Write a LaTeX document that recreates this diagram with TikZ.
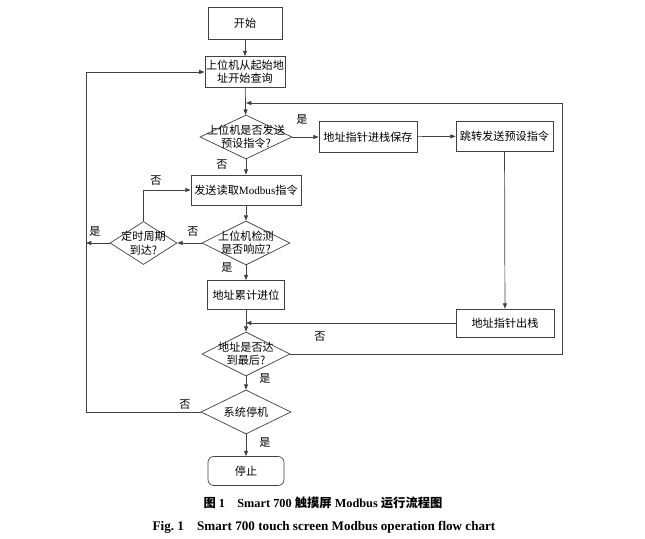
\documentclass[tikz,border=0pt]{standalone}
\usepackage{fontspec}
\setmainfont{Liberation Serif}
\newfontfamily\cjk{Noto Sans CJK SC}
\usetikzlibrary{arrows.meta, shapes.geometric}

\begin{document}
\begin{tikzpicture}[
    x=0.03cm, y=-0.03cm,
    box/.style={draw=black!75, line width=0.6pt, minimum width=2.4cm, minimum height=0.93cm,
                text centered, align=center, inner sep=1pt, font=\cjk\fontsize{9.5}{11.5}\selectfont},
    dec/.style={draw=black!75, line width=0.6pt, diamond, inner sep=0pt,
                minimum width=2.64cm, minimum height=1.32cm},
    dectext/.style={align=center, inner sep=0pt, font=\cjk\fontsize{9.5}{11.5}\selectfont},
    lbl/.style={inner sep=0pt, font=\cjk\fontsize{9.5}{11}\selectfont},
    arr/.style={-{Triangle[length=1.6mm, width=1.2mm]}, draw=black!75, line width=0.6pt},
    line/.style={draw=black!75, line width=0.6pt}
]
\useasboundingbox (0,0) rectangle (645,539);

% main column
\node[box, minimum width=2.22cm, minimum height=0.96cm] (start) at (245,23) {开始};
\node[box] (query) at (245,72) {上位机从起始地\\址开始查询};
\node[dec, minimum width=2.76cm] (q1) at (246,137) {};
\node[dectext] at (q1) {上位机是否发送\\预设指令?};
\node[box, minimum width=3.3cm, minimum height=0.9cm] (send) at (246,190) {发送读取{\rmfamily Modbus}指令};
\node[dec] (q2) at (246,243) {};
\node[dectext] at (q2) {上位机检测\\是否响应?};
\node[dec, minimum width=2.01cm, minimum height=1.29cm] (timer) at (143.5,243) {};
\node[dectext] at (timer) {定时周期\\到达?};
\node[box, minimum width=2.31cm, minimum height=0.87cm] (accum) at (246,295) {地址累计进位};
\node[dec] (q3) at (246,354) {};
\node[dectext] at (q3) {地址是否达\\到最后?};
\node[dec, minimum width=2.7cm] (halt) at (246,412) {};
\node[dectext] at (halt) {系统停机};
\node[box, rounded corners=5pt, minimum width=2.28cm, minimum height=0.87cm] (stop) at (246,471) {停止};

% right column
\node[box, minimum width=2.94cm] (push) at (368,137) {地址指针进栈保存};
\node[box, minimum width=2.91cm, minimum height=0.9cm] (jump) at (504.5,136) {跳转发送预设指令};
\node[box, minimum width=2.94cm, minimum height=0.84cm] (pop) at (505,323) {地址指针出栈};

\coordinate (lx) at (86,412);
\coordinate (rx) at (562,103);

\draw[arr] (start) -- (query);
\draw[arr] (query) -- (q1);
\draw[arr] (q1) -- (push);
\draw[arr] (push) -- (jump);
\draw[arr] (jump) -- (pop);
\draw[arr] (q1) -- (send);
\draw[arr] (send) -- (q2);
\draw[arr] (q2) -- (timer);
\draw[arr] (timer.north) |- (send.west);
\draw[arr] (timer.west) -- (timer.west -| lx);
\draw[arr] (q2) -- (accum);
\draw[arr] (accum) -- (q3);
\draw[arr] (pop.west) -- (pop.west -| q3.north);
\draw[arr] (q3.east) -| (rx) -- (rx -| q1.north);
\draw[arr] (q3) -- (halt);
\draw[arr] (halt.west) -- (lx) |- (query.west);
\draw[arr] (halt) -- (stop);

% branch labels
\node[lbl] (y1) at (302,120) {是};
\node[lbl] (n1) at (222,165) {否};
\node[lbl] (n2) at (156,181) {否};
\node[lbl] (n3) at (193,232) {否};
\node[lbl] (y2) at (95,232) {是};
\node[lbl] (y3) at (227,268) {是};
\node[lbl] (n4) at (320,337) {否};
\node[lbl] (y4) at (265,379) {是};
\node[lbl] (n5) at (185,405) {否};
\node[lbl] (y5) at (265,443) {是};

% caption
\node[font=\fontsize{10.5}{12}\selectfont\bfseries] (cap1) at (323,503)
  {{\cjk 图}~1\quad Smart~700~{\cjk 触摸屏}~Modbus~{\cjk 运行流程图}};
\node[font=\fontsize{11.2}{13}\selectfont\bfseries] (cap2) at (324,527)
  {Fig.~1\quad Smart 700 touch screen Modbus operation flow chart};
\end{tikzpicture}
\end{document}
